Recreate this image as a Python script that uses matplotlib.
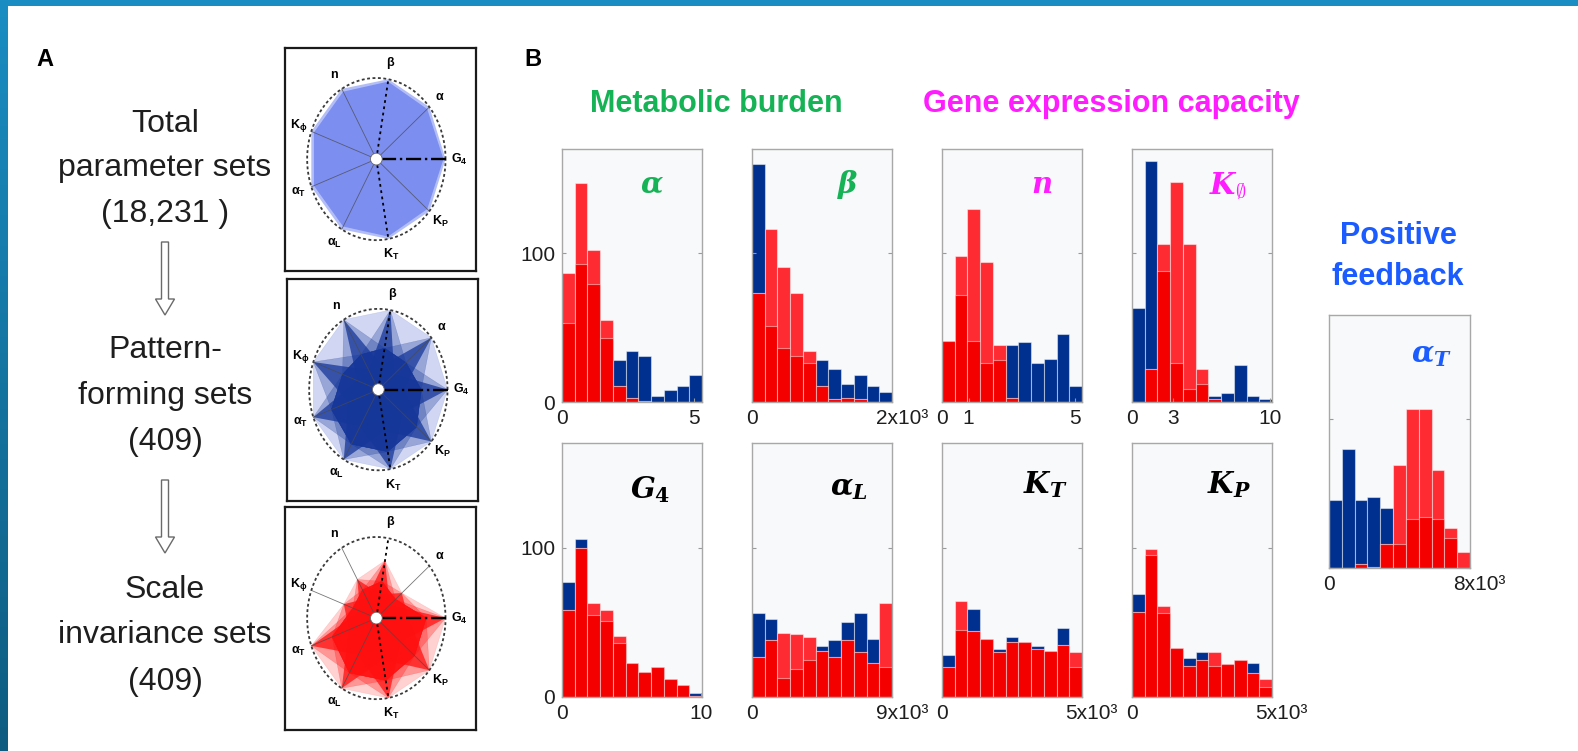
import numpy as np
import matplotlib
matplotlib.use("Agg")
import matplotlib.pyplot as plt
from matplotlib import font_manager
from matplotlib.patches import Ellipse, FancyArrow, Rectangle, Polygon

# ---------------------------------------------------------------- fonts
_installed = {f.name for f in font_manager.fontManager.ttflist}
NARROW = "Liberation Sans Narrow" in _installed
SANS = "Liberation Sans Narrow" if NARROW else "Liberation Sans"

plt.rcParams["font.family"] = [SANS, "Liberation Sans", "DejaVu Sans"]
plt.rcParams["mathtext.fontset"] = "custom"
plt.rcParams["mathtext.it"] = "DejaVu Serif:italic:bold"
plt.rcParams["mathtext.rm"] = "DejaVu Serif:bold"
plt.rcParams["mathtext.bf"] = "Liberation Sans:bold"

W, H = 1578, 751

# ---------------------------------------------------------------- histogram counts
# blue = pattern-forming parameter sets, red = scale-invariant sets (11 bins each)
alpha_blue = [53, 93, 79, 43, 28, 34, 31, 4, 8, 11, 18]
alpha_red = [87, 147, 102, 55, 11, 3, 1, 0, 0, 0, 0]

beta_blue = [160, 51, 36, 31, 26, 28, 22, 12, 18, 11, 7]
beta_red = [73, 116, 91, 73, 34, 11, 2, 3, 2, 0, 0]

n_blue = [41, 72, 41, 26, 28, 38, 40, 26, 29, 46, 11]
n_red = [41, 98, 130, 94, 38, 3, 0, 0, 0, 0, 0]

kphi_blue = [63, 162, 88, 26, 9, 12, 4, 6, 25, 4, 2]
kphi_red = [0, 22, 106, 148, 106, 22, 2, 0, 0, 0, 0]

g4_blue = [77, 106, 55, 51, 36, 23, 17, 20, 12, 8, 3]
g4_red = [58, 100, 63, 58, 41, 23, 17, 20, 12, 8, 1]

alphaL_blue = [56, 52, 13, 19, 25, 34, 38, 50, 56, 39, 20]
alphaL_red = [27, 38, 43, 42, 40, 31, 27, 38, 30, 23, 63]

kt_blue = [28, 45, 59, 39, 32, 40, 37, 34, 31, 46, 20]
kt_red = [20, 64, 44, 39, 30, 37, 37, 32, 31, 35, 30]

kp_blue = [69, 95, 56, 33, 26, 30, 21, 22, 25, 23, 7]
kp_red = [57, 99, 61, 33, 21, 25, 30, 22, 25, 16, 12]

alphaT_blue = [46, 80, 46, 48, 40, 16, 33, 34, 33, 20, 0]
alphaT_red = [0, 0, 3, 1, 16, 69, 107, 107, 66, 27, 11]

# parameter ranges (x axis) and tick labels
alpha_range, alpha_ticks, alpha_labels = (0, 5.3), [0, 5], ["0", "5"]
beta_range, beta_ticks, beta_labels = (0, 2000), [0], ["0"]
n_range, n_ticks, n_labels = (0, 5.25), [0, 1, 5], ["0", "1", "5"]
kphi_range, kphi_ticks, kphi_labels = (0, 10.15), [0, 3, 10], ["0", "3", "10"]
g4_range, g4_ticks, g4_labels = (0, 10.1), [0, 10], ["0", "10"]
alphaL_range, alphaL_ticks, alphaL_labels = (0, 9000), [0], ["0"]
kt_range, kt_ticks, kt_labels = (0, 5000), [0], ["0"]
kp_range, kp_ticks, kp_labels = (0, 5000), [0], ["0"]
alphaT_range, alphaT_ticks, alphaT_labels = (0, 8000), [0], ["0"]

count_ticks = [0, 100]
count_labels = ["0", "100"]

# ---------------------------------------------------------------- radar profiles
# spokes (counter-clockwise from the right): G4, alpha, beta, n, K_phi, alpha_T, alpha_L, K_T, K_P
spoke_deg = [0, 40, 80, 120, 160, 200, 240, 280, 320]
spoke_labels = [r"$\mathbf{G_4}$", r"$\mathbf{\alpha}$", r"$\mathbf{\beta}$", r"$\mathbf{n}$",
                r"$\mathbf{K_\phi}$", r"$\mathbf{\alpha_T}$", r"$\mathbf{\alpha_L}$",
                r"$\mathbf{K_T}$", r"$\mathbf{K_P}$"]

total_outer = [1.00, 1.00, 1.00, 1.00, 1.00, 1.00, 1.00, 1.00, 1.00]
total_reach = [0.97, 0.96, 0.97, 0.96, 0.96, 0.96, 0.96, 0.97, 0.96]

pattern_reach = [1.00, 1.00, 1.00, 1.00, 1.00, 1.00, 1.00, 1.00, 1.00]
pattern_spread = [0.62, 0.52, 0.52, 0.50, 0.55, 0.72, 0.78, 0.78, 0.72]
pattern_core = [0.36, 0.30, 0.30, 0.28, 0.32, 0.46, 0.52, 0.52, 0.46]

scale_reach = [1.00, 0.48, 0.72, 0.55, 0.50, 1.00, 1.00, 1.00, 1.00]
scale_spread = [0.72, 0.36, 0.46, 0.40, 0.36, 0.68, 0.78, 0.78, 0.72]
scale_core = [0.46, 0.25, 0.30, 0.28, 0.25, 0.42, 0.52, 0.52, 0.46]

# ---------------------------------------------------------------- colours
BLUE = "#00308f"
LIGHT_RED = "#ff2b33"
DEEP_RED = "#f50000"
GREEN = "#16b356"
MAGENTA = "#ff1cff"
FB_BLUE = "#1a5cff"
TEXT = "#1e1e1e"

fig = plt.figure(figsize=(W / 100, H / 100), dpi=100)
fig.patch.set_facecolor("white")


def px_rect(x0, y0, x1, y1):
    return [x0 / W, 1 - y1 / H, (x1 - x0) / W, (y1 - y0) / H]


# overlay in pixel coordinates for free text, arrows and the frame band
ov = fig.add_axes([0, 0, 1, 1], zorder=10)
ov.set_xlim(0, W)
ov.set_ylim(H, 0)
ov.axis("off")

# frame band
ov.add_patch(Rectangle((0, 0), W, 6, color="#1a8dc2", lw=0))
grad = np.linspace(0, 1, 256)[:, None, None]
top_c = np.array([0x1a, 0x8d, 0xc2]) / 255
bot_c = np.array([0x0e, 0x5c, 0x80]) / 255
band = top_c * (1 - grad) + bot_c * grad
ov.imshow(band, extent=(0, 7.5, H, 0), aspect="auto", interpolation="bilinear", zorder=1)
ov.set_xlim(0, W)
ov.set_ylim(H, 0)

# ---------------------------------------------------------------- panel A text
big = 28 if NARROW else 23
ov.text(45, 66, "A", fontsize=17, fontweight="bold", ha="center", va="baseline",
        family=["Liberation Sans"], color="black")
ov.text(533, 66, "B", fontsize=17, fontweight="bold", ha="center", va="baseline",
        family=["Liberation Sans"], color="black")

blocks = [
    (["Total", "parameter sets", "(18,231 )"], [132, 176, 222]),
    (["Pattern-", "forming sets", "(409)"], [358, 404, 450]),
    (["Scale", "invariance sets", "(409)"], [598, 643, 690]),
]
for lines, ys in blocks:
    for s, y in zip(lines, ys):
        ov.text(165, y, s, fontsize=big, ha="center", va="baseline", color=TEXT)

for y0, y1 in [(242, 315), (480, 553)]:
    ov.add_patch(FancyArrow(165, y0, 0, y1 - y0, width=7, head_width=19, head_length=16,
                            length_includes_head=True, fc="white", ec="#6a6a6a", lw=1.0))

# ---------------------------------------------------------------- radar charts
ang = np.deg2rad(spoke_deg)


def spoke_xy(r):
    r = np.asarray(r, float)
    return np.column_stack([r * np.cos(ang), r * np.sin(ang)])


def radar_axes(box):
    ax = fig.add_axes(px_rect(*box), zorder=2)
    ax.set_xlim(-1.32, 1.44)
    ax.set_ylim(-1.38, 1.37)
    ax.set_xticks([])
    ax.set_yticks([])
    for s in ax.spines.values():
        s.set_linewidth(1.6)
        s.set_color("#1a1a1a")
    return ax


def radar_frame(ax):
    t = np.linspace(0, 2 * np.pi, 240)
    ax.plot(np.cos(t), np.sin(t), color="#3a3a3a", lw=1.3, ls=(0, (1.6, 1.4)), zorder=4)
    for k, a in enumerate(ang):
        x, y = np.cos(a), np.sin(a)
        if k == 0:
            ax.plot([0.06, x], [0, y], color="black", lw=1.7, ls="-.", zorder=4)
        elif k in (2, 7):
            ax.plot([0, x], [0, y], color="black", lw=1.3, ls=(0, (1.5, 2.0)), zorder=4)
        else:
            ax.plot([0, x], [0, y], color="#4a4a4a", lw=0.6, alpha=0.75, zorder=4)
    ax.add_patch(Ellipse((0, 0), 0.17, 0.145, fc="white", ec="#666", lw=0.6, zorder=6))
    for a, lab in zip(ang, spoke_labels):
        rr = 1.2
        ax.text(rr * np.cos(a), rr * np.sin(a), lab, fontsize=9, ha="center", va="center",
                color="black", zorder=7)


def star(ax, reach, spread, core, dense, light):
    ax.add_patch(Polygon(spoke_xy(reach), closed=True, fc=light, ec=light, lw=0.4,
                         alpha=0.45, zorder=2))
    for i in range(len(reach)):
        r = np.array(spread, float)
        r[i] = reach[i]
        ax.add_patch(Polygon(spoke_xy(r), closed=True, fc=dense, ec=dense, lw=0.3,
                             alpha=0.30, zorder=3))
    for i in range(len(reach)):
        r = np.array(core, float)
        r[i] = reach[i]
        ax.add_patch(Polygon(spoke_xy(r), closed=True, fc=dense, ec="none",
                             alpha=0.75, zorder=3))


ax1 = radar_axes((285, 48, 476, 271))
ax1.add_patch(Polygon(spoke_xy(total_outer), closed=True, fc="#b3bef7", ec="none", zorder=2))
ax1.add_patch(Polygon(spoke_xy(total_reach), closed=True, fc="#7c8ef0", ec="none", zorder=3))
radar_frame(ax1)

ax2 = radar_axes((287, 279, 478, 501))
star(ax2, pattern_reach, pattern_spread, pattern_core, "#16379a", "#9aa8e4")
radar_frame(ax2)

ax3 = radar_axes((285, 507, 476, 730))
star(ax3, scale_reach, scale_spread, scale_core, "#ff1010", "#ff9a9a")
radar_frame(ax3)

# ---------------------------------------------------------------- histograms
tick_fs = 17 if NARROW else 15


def hist_panel(box, blue, red, xr, ticks, labels, sci, ylab):
    ax = fig.add_axes(px_rect(*box), zorder=2)
    ax.set_facecolor("#f7f9fa")
    blue = np.asarray(blue, float)
    red = np.asarray(red, float)
    edges = np.linspace(xr[0], xr[1], len(blue) + 1)
    left, width = edges[:-1], np.diff(edges)
    ec = (1, 1, 1, 0.45)
    ax.bar(left, blue, width, align="edge", color=BLUE, edgecolor=ec, lw=0.8)
    ax.bar(left, red, width, align="edge", color=LIGHT_RED, edgecolor=ec, lw=0.8)
    ax.bar(left, np.minimum(blue, red), width, align="edge", color=DEEP_RED,
           edgecolor=ec, lw=0.8)
    ax.set_xlim(*xr)
    ax.set_ylim(0, 170)
    for s in ax.spines.values():
        s.set_color("#a8a8a8")
        s.set_linewidth(1.0)
    ax.set_xticks(ticks + ([xr[1]] if sci else []))
    ax.set_xticklabels(labels + ([""] if sci else []))
    ax.set_yticks(count_ticks)
    ax.set_yticklabels(count_labels if ylab else [])
    ax.tick_params(direction="in", length=3, width=0.8, color="#9a9a9a",
                   labelsize=tick_fs, labelcolor=TEXT, pad=5, right=True)
    if sci:
        ax.annotate(sci, xy=(xr[1], 0), xycoords=("data", "axes fraction"),
                    xytext=(7, -5), textcoords="offset points", ha="center", va="top",
                    fontsize=tick_fs, color=TEXT)
    return ax


top = (149, 402)
bot = (443, 697)
cols = [(562, 702), (752, 892), (942, 1082), (1132, 1272)]

hist_panel((cols[0][0], top[0], cols[0][1], top[1]), alpha_blue, alpha_red,
           alpha_range, alpha_ticks, alpha_labels, None, True)
hist_panel((cols[1][0], top[0], cols[1][1], top[1]), beta_blue, beta_red,
           beta_range, beta_ticks, beta_labels, "2x10³", False)
hist_panel((cols[2][0], top[0], cols[2][1], top[1]), n_blue, n_red,
           n_range, n_ticks, n_labels, None, False)
hist_panel((cols[3][0], top[0], cols[3][1], top[1]), kphi_blue, kphi_red,
           kphi_range, kphi_ticks, kphi_labels, None, False)
hist_panel((cols[0][0], bot[0], cols[0][1], bot[1]), g4_blue, g4_red,
           g4_range, g4_ticks, g4_labels, None, True)
hist_panel((cols[1][0], bot[0], cols[1][1], bot[1]), alphaL_blue, alphaL_red,
           alphaL_range, alphaL_ticks, alphaL_labels, "9x10³", False)
hist_panel((cols[2][0], bot[0], cols[2][1], bot[1]), kt_blue, kt_red,
           kt_range, kt_ticks, kt_labels, "5x10³", False)
hist_panel((cols[3][0], bot[0], cols[3][1], bot[1]), kp_blue, kp_red,
           kp_range, kp_ticks, kp_labels, "5x10³", False)
hist_panel((1329, 315, 1470, 568), alphaT_blue, alphaT_red,
           alphaT_range, alphaT_ticks, alphaT_labels, "8x10³", False)

# parameter symbols inside the panels
sym_fs = 21
symbols = [
    (652, 193, r"$\alpha$", GREEN), (848, 193, r"$\beta$", GREEN),
    (1042, 193, r"$n$", MAGENTA), (1228, 193, r"$K_{\emptyset}$", MAGENTA),
    (650, 498, r"$G_4$", "black"), (849, 495, r"$\alpha_L$", "black"),
    (1045, 493, r"$K_T$", "black"), (1229, 493, r"$K_P$", "black"),
    (1431, 362, r"$\alpha_T$", FB_BLUE),
]
for x, y, s, c in symbols:
    ov.text(x, y, s, fontsize=sym_fs, color=c, ha="center", va="baseline")

# group titles
title_fs = 27 if NARROW else 22
ov.text(716, 112, "Metabolic burden", fontsize=title_fs, fontweight="bold", color=GREEN,
        ha="center", va="baseline")
ov.text(1111, 112, "Gene expression capacity", fontsize=title_fs, fontweight="bold",
        color=MAGENTA, ha="center", va="baseline")
ov.text(1398, 244, "Positive", fontsize=title_fs, fontweight="bold", color=FB_BLUE,
        ha="center", va="baseline")
ov.text(1398, 285, "feedback", fontsize=title_fs, fontweight="bold", color=FB_BLUE,
        ha="center", va="baseline")

fig.savefig("out.png", dpi=100, facecolor="white")
